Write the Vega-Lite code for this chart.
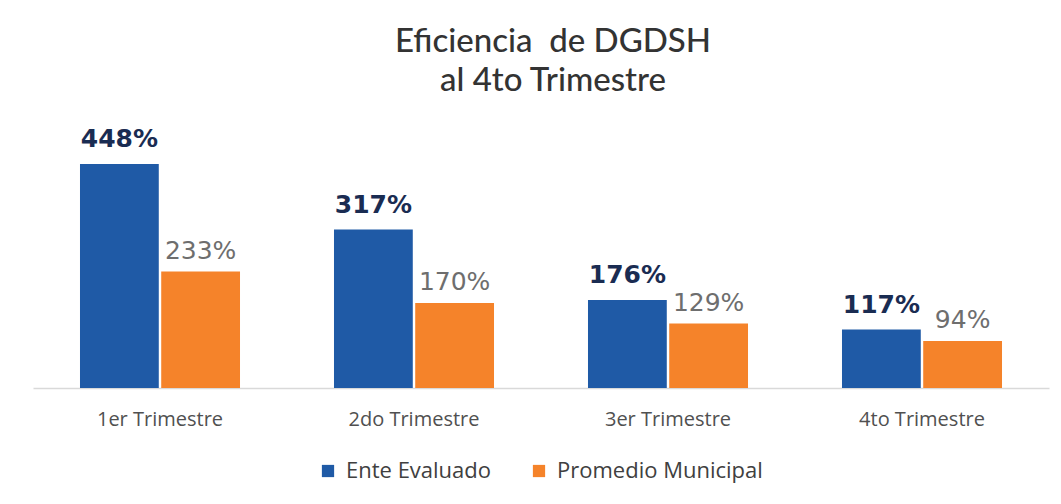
{
  "$schema": "https://vega.github.io/schema/vega-lite/v6.json",
  "autosize": "none",
  "width": 1016,
  "height": 250,
  "padding": {"left": 33, "top": 138, "right": 12, "bottom": 116},
  "background": "#ffffff",
  "config": {"view": {"stroke": null}},
  "title": {
    "text": ["Eficiencia\u00a0 de DGDSH", "al 4to Trimestre"],
    "font": "Lato",
    "fontSize": 33,
    "fontWeight": 500,
    "color": "#333333",
    "lineHeight": 39,
    "anchor": "middle",
    "offset": 29,
    "dx": 12
  },
  "data": {
    "values": [
      {"trimestre": "1er Trimestre", "serie": "Ente Evaluado", "valor": 448},
      {"trimestre": "1er Trimestre", "serie": "Promedio Municipal", "valor": 233},
      {"trimestre": "2do Trimestre", "serie": "Ente Evaluado", "valor": 317},
      {"trimestre": "2do Trimestre", "serie": "Promedio Municipal", "valor": 170},
      {"trimestre": "3er Trimestre", "serie": "Ente Evaluado", "valor": 176},
      {"trimestre": "3er Trimestre", "serie": "Promedio Municipal", "valor": 129},
      {"trimestre": "4to Trimestre", "serie": "Ente Evaluado", "valor": 117},
      {"trimestre": "4to Trimestre", "serie": "Promedio Municipal", "valor": 94}
    ]
  },
  "encoding": {
    "x": {
      "field": "trimestre",
      "type": "nominal",
      "sort": null,
      "scale": {"paddingInner": 0.37, "paddingOuter": 0.185},
      "axis": {
        "title": null,
        "labelAngle": 0,
        "labelFont": "Open Sans",
        "labelFontSize": 20,
        "labelColor": "#505050",
        "labelPadding": 21,
        "ticks": false,
        "domainColor": "#d9d9d9",
        "domainWidth": 1.5
      }
    },
    "xOffset": {"field": "serie", "type": "nominal", "scale": {"paddingInner": 0.03}},
    "y": {
      "field": "valor",
      "type": "quantitative",
      "scale": {"domain": [0, 500]},
      "axis": null
    }
  },
  "layer": [
    {
      "mark": {"type": "bar"},
      "encoding": {
        "color": {
          "field": "serie",
          "type": "nominal",
          "scale": {"domain": ["Ente Evaluado", "Promedio Municipal"], "range": ["#1f5aa6", "#f5832a"]},
          "legend": {
            "title": null,
            "orient": "none",
            "direction": "horizontal",
            "legendX": 284,
            "legendY": 322,
            "symbolType": "square",
            "symbolSize": 150,
            "symbolStrokeWidth": 0,
            "labelFont": "Open Sans",
            "labelFontSize": 22,
            "labelColor": "#404040",
            "labelLimit": 400,
            "columnPadding": 36,
            "labelOffset": 7
          }
        }
      }
    },
    {
      "transform": [{"filter": "datum.serie == 'Ente Evaluado'"}, {"calculate": "datum.valor + '%'", "as": "label"}],
      "mark": {"type": "text", "baseline": "bottom", "dy": -12, "font": "DejaVu Sans", "fontWeight": "bold", "fontSize": 25, "color": "#1a2c52"},
      "encoding": {"text": {"field": "label"}}
    },
    {
      "transform": [{"filter": "datum.serie == 'Promedio Municipal'"}, {"calculate": "datum.valor + '%'", "as": "label"}],
      "mark": {"type": "text", "baseline": "bottom", "dy": -8, "font": "DejaVu Sans", "fontWeight": "normal", "fontSize": 25, "color": "#6e6e6e"},
      "encoding": {"text": {"field": "label"}}
    }
  ]
}
